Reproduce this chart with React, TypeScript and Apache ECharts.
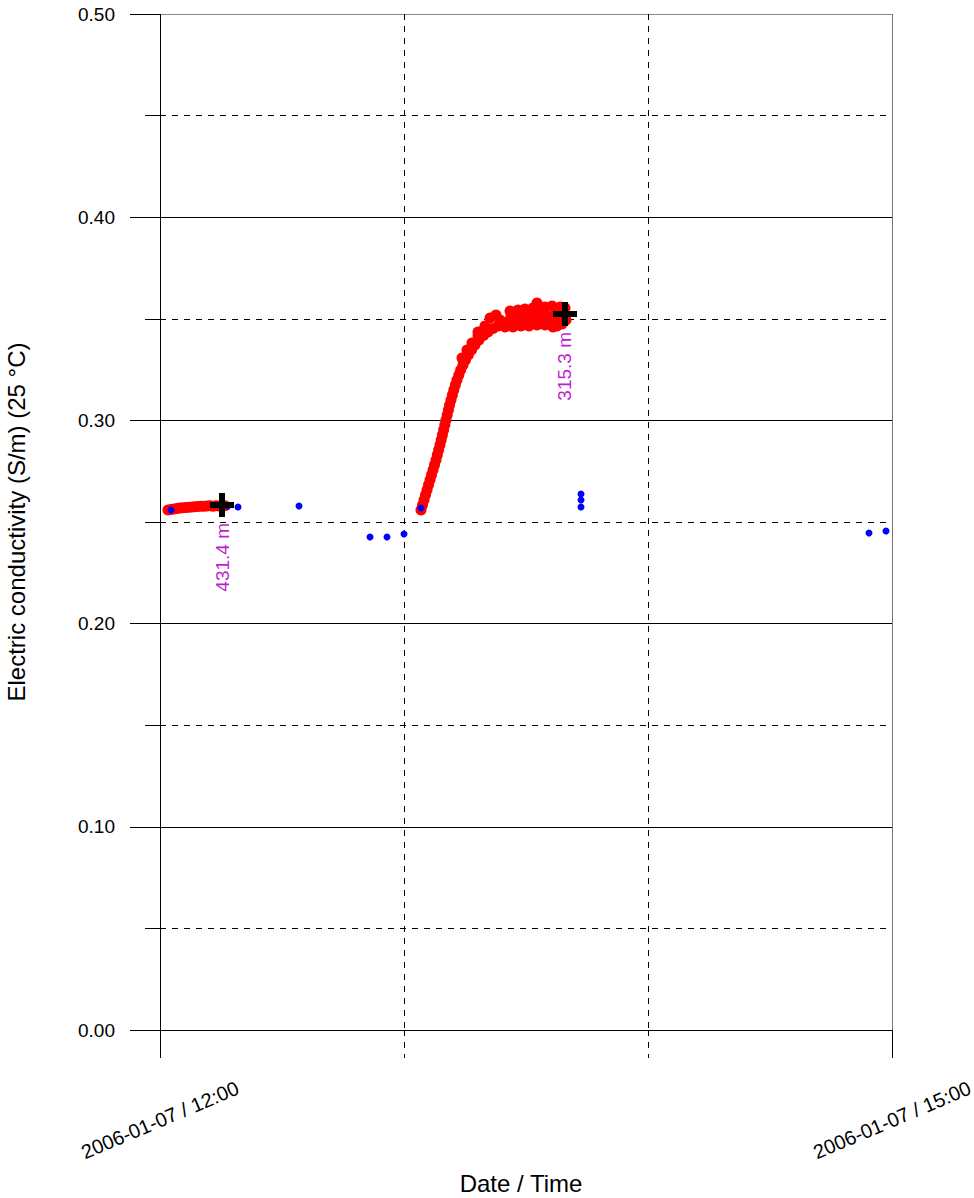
import React, { useEffect, useRef } from "react";
import * as echarts from "echarts";

// x values: minutes after 2006-01-07 12:00 ; y values: S/m at 25 °C
const xTickLabels: Record<number, string> = {
  0: "2006-01-07 / 12:00",
  180: "2006-01-07 / 15:00",
};

const redFirstRun: [number, number][] = [
  [1.97, 0.25591], [2.70, 0.25615], [3.44, 0.2564], [4.18, 0.25664], [4.92, 0.25689],
  [5.66, 0.25699], [6.39, 0.25714], [7.13, 0.25728], [7.87, 0.25738], [8.61, 0.25748],
  [9.34, 0.25763], [10.08, 0.25772], [10.82, 0.25778], [11.56, 0.25787], [12.30, 0.25797],
  [13.03, 0.25778], [13.77, 0.25802], [14.51, 0.25787], [15.25, 0.25807], [15.98, 0.25797],
];

const redRise: [number, number][] = [
  [64.18, 0.25591], [64.55, 0.25837], [64.92, 0.26083], [65.29, 0.26329], [65.66, 0.26575],
  [66.03, 0.26821], [66.39, 0.27067], [66.76, 0.27313], [67.13, 0.27559], [67.5, 0.27805],
  [67.87, 0.28051], [68.19, 0.28297], [68.51, 0.28543], [68.85, 0.28789], [69.15, 0.29035],
  [69.44, 0.29281], [69.74, 0.29528], [70.03, 0.29774], [70.33, 0.3002], [70.62, 0.30266],
  [70.92, 0.30512], [71.21, 0.30758], [71.56, 0.31004], [71.9, 0.3125], [72.25, 0.31496],
  [72.62, 0.31742], [73.03, 0.31988], [73.48, 0.32234], [73.94, 0.3248], [74.51, 0.32726],
  [75.12, 0.32972], [75.81, 0.33219], [76.6, 0.33465], [77.46, 0.33711], [78.44, 0.33957],
  [79.55, 0.34178], [80.66, 0.3435], [81.89, 0.34523], [83.11, 0.34646], [84.34, 0.34744],
  [81.15, 0.35039], [82.62, 0.35187], [83.61, 0.34941], [79.9, 0.3465], [78.2, 0.3435],
  [74.26, 0.33071], [75.49, 0.33465], [76.72, 0.33809], [78.2, 0.34154], [79.67, 0.34449],
];

const redPlateau: [number, number][] = [
  [85.33, 0.34843], [86.31, 0.35138], [87.3, 0.34744], [88.28, 0.35039], [89.26, 0.34892],
  [90.25, 0.35236], [91.23, 0.34843], [92.21, 0.35089], [93.2, 0.35335], [94.18, 0.34941],
  [95.16, 0.35138], [96.15, 0.34843], [97.13, 0.35236], [98.11, 0.3499], [99.1, 0.35138],
  [99.84, 0.34941],
  [86.07, 0.35384], [88.03, 0.35433], [89.75, 0.35482], [91.72, 0.35531], [92.7, 0.35778],
  [94.67, 0.35581], [96.39, 0.3563], [98.36, 0.35581], [99.59, 0.35531],
  [84.84, 0.34596], [86.8, 0.34596], [88.77, 0.34646], [90.74, 0.34646], [92.7, 0.34695],
  [94.67, 0.34695], [96.64, 0.34596], [97.62, 0.34646], [98.85, 0.34744],
];

const bluePoints: [number, number][] = [
  [2.7, 0.25591], [16.72, 0.25787], [19.18, 0.25738], [34.18, 0.25787],
  [51.64, 0.24262], [55.82, 0.24262], [60.0, 0.24409], [64.18, 0.25689],
  [103.52, 0.26378], [103.52, 0.26083], [103.52, 0.25738],
  [174.34, 0.24459], [178.52, 0.24557],
];

const crossPoints: [number, number][] = [
  [15.25, 0.25837],
  [99.59, 0.35236],
];
const crossLabels: string[] = ["431.4 m", "315.3 m"];

const FONT = "'Liberation Sans', Arial, Helvetica, sans-serif";
const DASH = [6, 6];

export default function App() {
  const ref = useRef<HTMLDivElement>(null);

  useEffect(() => {
    document.body.style.margin = "0";
    const chart = echarts.init(ref.current!, undefined, { renderer: "svg" });
    const redAll = [...redFirstRun, ...redRise, ...redPlateau];
    const option: any = {
      animation: false,
      backgroundColor: "#ffffff",
      textStyle: { fontFamily: FONT },
      grid: { left: 160, right: 82, top: 14, bottom: 168, outerBoundsMode: "none" },
      xAxis: [
        {
          type: "value",
          min: 0,
          max: 180,
          interval: 60,
          position: "bottom",
          axisLine: { show: false },
          axisTick: { show: true, length: 28, lineStyle: { color: "#000", type: DASH, width: 1 } },
          axisLabel: {
            show: true,
            formatter: (v: number) => xTickLabels[v] ?? "",
            rotate: 23,
            align: "center",
            verticalAlign: "middle",
            margin: 90,
            fontSize: 20,
            color: "#000",
            fontFamily: FONT,
            showMinLabel: true,
            showMaxLabel: true,
            hideOverlap: false,
          },
          splitLine: { show: true, lineStyle: { color: "#000", type: DASH, width: 1 } },
          name: "Date / Time",
          nameLocation: "middle",
          nameGap: 141,
          nameTextStyle: { fontSize: 24, color: "#000", fontFamily: FONT, padding: [0, 10, 0, 0] },
        },
        {
          type: "value",
          min: 0,
          max: 180,
          interval: 180,
          position: "bottom",
          axisLine: { show: false },
          axisTick: { show: true, length: 28, lineStyle: { color: "#000", width: 1 } },
          axisLabel: { show: false },
          splitLine: { show: true, lineStyle: { color: ["#000", "#777"], type: "solid", width: 1 } },
        },
      ],
      yAxis: [
        {
          type: "value",
          min: 0,
          max: 0.5,
          interval: 0.1,
          axisLine: { show: false },
          axisTick: { show: true, length: 30, lineStyle: { color: "#000", width: 1 } },
          minorTick: { show: true, splitNumber: 2, length: 15, lineStyle: { color: "#000", width: 1 } },
          minorSplitLine: { show: true, lineStyle: { color: "#000", type: DASH, width: 1 } },
          splitLine: {
            show: true,
            lineStyle: { color: ["#000", "#000", "#000", "#000", "#000", "#888"], width: 1 },
          },
          axisLabel: {
            formatter: (v: number) => v.toFixed(2),
            fontSize: 19,
            margin: 45,
            color: "#000",
            fontFamily: FONT,
          },
          name: "Electric conductivity (S/m) (25 °C)",
          nameLocation: "middle",
          nameGap: 132,
          nameTextStyle: { fontSize: 24, color: "#000", fontFamily: FONT },
        },
      ],
      series: [
        {
          type: "scatter",
          data: redAll,
          symbol: "circle",
          symbolSize: 11,
          itemStyle: { color: "#ff0000", opacity: 1 },
          emphasis: { disabled: true },
          z: 2,
        },
        {
          type: "scatter",
          data: bluePoints,
          symbol: "circle",
          symbolSize: 7,
          itemStyle: { color: "#0000ff", opacity: 1 },
          emphasis: { disabled: true },
          z: 3,
        },
        {
          type: "scatter",
          data: crossPoints.map((p, i) => ({ value: p, name: crossLabels[i] })),
          symbol: "path://M9,0H15V9H24V15H15V24H9V15H0V9H9Z",
          symbolSize: 24,
          itemStyle: { color: "#000", opacity: 1 },
          emphasis: { disabled: true },
          z: 4,
          label: {
            show: true,
            formatter: (p: any) => p.name,
            position: "bottom",
            distance: 6,
            rotate: 90,
            align: "right",
            verticalAlign: "middle",
            fontSize: 19,
            color: "#BF1FD0",
            opacity: 1,
            fontFamily: FONT,
          },
        },
      ],
    };
    chart.setOption(option);
    return () => chart.dispose();
  }, []);

  return (
    <div
      ref={ref}
      style={{ position: "absolute", left: 0, top: 0, width: 974, height: 1198 }}
    />
  );
}
